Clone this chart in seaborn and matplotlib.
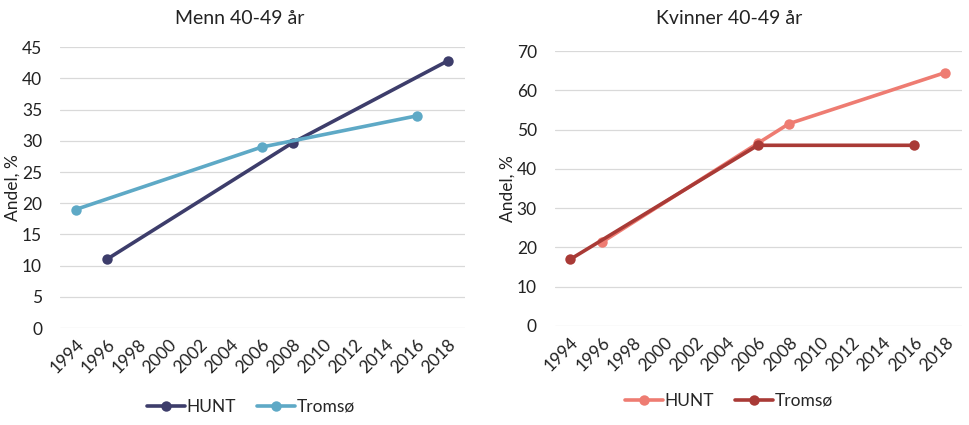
import numpy as np
import pandas as pd
import matplotlib
matplotlib.use('Agg')
import matplotlib.pyplot as plt
import seaborn as sns

# Data
men_hunt_years = [1996, 2008, 2018]
men_hunt_vals = [11.0, 29.7, 42.8]
men_tromso_years = [1994, 2006, 2016]
men_tromso_vals = [19.0, 29.0, 34.0]

women_hunt_years = [1996, 2006, 2008, 2018]
women_hunt_vals = [21.3, 46.5, 51.5, 64.5]
women_tromso_years = [1994, 2006, 2016]
women_tromso_vals = [17.0, 46.0, 46.0]

year_ticks = list(range(1994, 2019, 2))
series_names = ["HUNT", "Tromsø"]

men_colors = {"HUNT": "#3D3D6B", "Tromsø": "#5EA9C6"}
women_colors = {"HUNT": "#EE7C72", "Tromsø": "#A93A36"}


def make_frame(hunt_x, hunt_y, tromso_x, tromso_y):
    """Long format table for seaborn"""
    return pd.DataFrame({
        "År": list(hunt_x) + list(tromso_x),
        "Andel": list(hunt_y) + list(tromso_y),
        "Studie": ["HUNT"] * len(hunt_x) + ["Tromsø"] * len(tromso_x),
    })


sns.set_style("white")
plt.rcParams['font.family'] = ['Lato', 'DejaVu Sans']

fig = plt.figure(figsize=(9.7, 4.25), dpi=100)
ax_m = fig.add_axes([0.062, 0.228, 0.417, 0.661])
ax_w = fig.add_axes([0.572, 0.233, 0.420, 0.647])

panels = [
    (ax_m, make_frame(men_hunt_years, men_hunt_vals, men_tromso_years, men_tromso_vals),
     men_colors, (0, 45), 5, "Menn 40-49 år", 240, (251, 407)),
    (ax_w, make_frame(women_hunt_years, women_hunt_vals, women_tromso_years, women_tromso_vals),
     women_colors, (0, 70), 10, "Kvinner 40-49 år", 729, (729, 401)),
]

for ax, df, colors, ylim, ystep, title, title_x, leg_pos in panels:
    sns.lineplot(data=df, x="År", y="Andel", hue="Studie", hue_order=series_names,
                 palette=colors, marker="o", markersize=7.5, markeredgewidth=0,
                 linewidth=2.6, ax=ax, legend=True, sort=True)
    ax.set_xlim(1993, 2019.1)
    ax.set_ylim(ylim[0], ylim[1] + 0.01)
    ax.set_xticks(year_ticks)
    ax.set_xticklabels([str(y) for y in year_ticks], rotation=45, ha='right',
                       rotation_mode='anchor', fontsize=12.5, color='#222222')
    ax.set_yticks(np.arange(ylim[0], ylim[1] + 1, ystep))
    ax.tick_params(axis='y', labelsize=12.5, colors='#222222', length=0, pad=13)
    ax.tick_params(axis='x', length=0, pad=6)
    ax.yaxis.grid(True, color='#D9D9D9', linewidth=0.9)
    ax.set_axisbelow(True)
    for s in ax.spines.values():
        s.set_visible(False)
    ax.set_xlabel("")
    ax.set_ylabel("Andel, %", fontsize=12.5, color='#222222')
    # the anchor is the right edge of the rotated label
    ax.yaxis.set_label_coords(-0.097, 0.5)

    handles, labels = ax.get_legend_handles_labels()
    ax.get_legend().remove()
    fig.legend(handles, labels, loc='center', ncol=2, frameon=False,
               bbox_to_anchor=(leg_pos[0] / 970, 1 - leg_pos[1] / 425),
               fontsize=12.5, handlelength=2.2, handletextpad=0.1, columnspacing=1.2)
    fig.text(title_x / 970, 1 - 18 / 425, title, ha='center', va='center',
             fontsize=14, color='#222222')

fig.savefig("out.png", dpi=100)
